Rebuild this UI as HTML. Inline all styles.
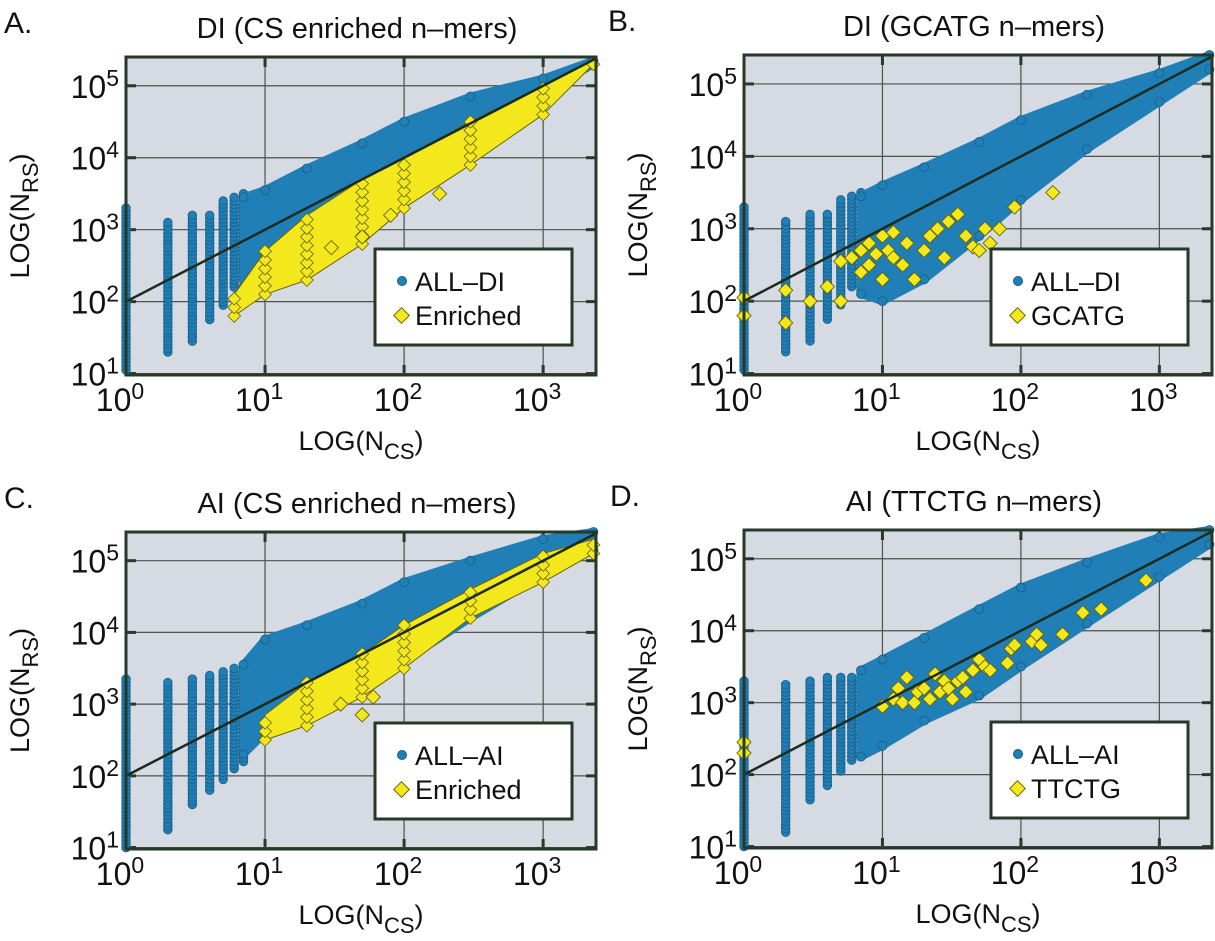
<!DOCTYPE html>
<html><head><meta charset="utf-8"><style>
html,body{margin:0;padding:0;background:#fff;width:1215px;height:941px;overflow:hidden}
svg{display:block;font-family:"Liberation Sans",Arial,sans-serif}
</style></head><body>
<svg id="fig" width="1215" height="941" viewBox="0 0 1215 941"></svg>
<script>
// ---- data (log10 values) ----
const colX = [1,2,3,4,5,6,7];
const aColLo = [1.05,1.3,1.45,1.75,1.95,2.2,2.3];
const aColHi = [3.3,3.1,3.2,3.2,3.4,3.45,3.5];
const bColLo = [1.05,1.3,1.45,1.75,1.95,2.2,2.1];
const bColHi = [3.3,3.1,3.2,3.2,3.4,3.45,3.5];
const cColLo = [1.0,1.25,1.6,1.8,1.95,2.1,2.2];
const cColHi = [3.35,3.3,3.35,3.4,3.45,3.5,3.55];
const dColLo = [1.0,1.2,1.65,1.85,2.05,2.2,2.25];
const dColHi = [3.3,3.25,3.3,3.35,3.35,3.35,3.45];
const bandX = [7,10,20,50,100,300,1000,2300];
const aBandLo = [2.2,2.5,2.8,3.3,3.8,4.35,4.9,5.3];
const aBandHi = [3.45,3.55,3.85,4.2,4.5,4.85,5.1,5.35];
const bBandLo = [2.1,2.0,2.3,2.9,3.4,4.1,4.75,5.2];
const bBandHi = [3.45,3.6,3.85,4.2,4.5,4.85,5.15,5.4];
const cBandLo = [2.3,2.6,2.8,3.2,3.6,4.2,4.8,5.15];
const cBandHi = [3.55,3.9,4.1,4.4,4.7,5.0,5.3,5.4];
const dBandLo = [2.25,2.4,2.75,3.1,3.5,4.1,4.75,5.2];
const dBandHi = [3.45,3.6,3.9,4.3,4.6,4.95,5.3,5.4];
const yBandX = [6,10,20,50,100,300,1000,2300];
const aYelLo = [1.8,2.1,2.3,2.8,3.3,3.9,4.6,5.3];
const aYelHi = [2.1,2.7,3.2,3.7,4.0,4.5,5.0,5.35];
const cYelX = [10,20,50,100,300,1000,2300];
const cYelLo = [2.5,2.7,3.1,3.5,4.2,4.7,5.1];
const cYelHi = [2.85,3.3,3.7,4.1,4.6,5.1,5.3];
const aYelPtX = [180,80,30,50];
const aYelPtY = [3.5,3.2,2.75,2.9];
const cYelPtX = [50,60,35];
const cYelPtY = [2.85,3.1,3.0];
const bYelPtX = [1,1,2,2,3,4,5,5,6,7,7,8,8,9,10,10,11,12,12,14,15,17,20,22,25,28,30,35,40,45,50,55,60,70,90,170];
const bYelPtY = [2.05,1.8,2.15,1.7,2.0,2.2,2.0,2.55,2.6,2.7,2.4,2.8,2.5,2.65,2.9,2.3,2.7,2.6,2.95,2.5,2.8,2.3,2.7,2.9,3.0,2.6,3.1,3.2,2.9,2.75,2.7,3.0,2.8,3.0,3.3,3.5];
const dYelPtX = [1,1,10,12,13,14,15,17,18,20,22,24,26,28,30,32,35,38,40,45,50,55,60,80,85,90,120,130,140,200,280,380,800];
const dYelPtY = [2.45,2.3,2.95,3.05,3.2,3.0,3.35,3.0,3.15,3.2,3.05,3.4,3.15,3.3,3.2,3.05,3.3,3.35,3.15,3.45,3.6,3.5,3.45,3.55,3.75,3.8,3.85,3.95,3.8,3.95,4.25,4.3,4.7];
const xTicks = [0,1,2,3];
const yTicks = [1,2,3,4,5];

const NS="http://www.w3.org/2000/svg";
const svg=document.getElementById('fig');
function el(tag,attrs,parent){const e=document.createElementNS(NS,tag);for(const k in attrs)e.setAttribute(k,attrs[k]);(parent||svg).appendChild(e);return e;}

const panels=[
 {L:126,R:596,T:57,B:375,LX:4,letter:'A.',title:'DI (CS enriched n\u2013mers)',colLo:aColLo,colHi:aColHi,bLo:aBandLo,bHi:aBandHi,yx:yBandX,yLo:aYelLo,yHi:aYelHi,px:aYelPtX,py:aYelPtY,l1:'ALL\u2013DI',l2:'Enriched',name:'panel-a'},
 {L:744,R:1212,T:55,B:375,LX:608,letter:'B.',title:'DI (GCATG n\u2013mers)',colLo:bColLo,colHi:bColHi,bLo:bBandLo,bHi:bBandHi,yx:null,px:bYelPtX,py:bYelPtY,l1:'ALL\u2013DI',l2:'GCATG',name:'panel-b'},
 {L:126,R:596,T:532,B:849,LX:4,letter:'C.',title:'AI (CS enriched n\u2013mers)',colLo:cColLo,colHi:cColHi,bLo:cBandLo,bHi:cBandHi,yx:cYelX,yLo:cYelLo,yHi:cYelHi,px:cYelPtX,py:cYelPtY,l1:'ALL\u2013AI',l2:'Enriched',name:'panel-c'},
 {L:744,R:1212,T:530,B:848,LX:610,letter:'D.',title:'AI (TTCTG n\u2013mers)',colLo:dColLo,colHi:dColHi,bLo:dBandLo,bHi:dBandHi,yx:null,px:dYelPtX,py:dYelPtY,l1:'ALL\u2013AI',l2:'TTCTG',name:'panel-d'}
];
const X0=0,X1=Math.log10(2400),Y0=0.98,Y1=5.4;
const BLUE='#1f7fb6',BLUE_S='#175f8a',YEL='#f2e81c',YEL_S='#6b6400';

panels.forEach(p=>{
 const g=el('g',{});
 
 
 const sx=v=>p.L+(v-X0)/(X1-X0)*(p.R-p.L);
 const sy=v=>p.B-(v-Y0)/(Y1-Y0)*(p.B-p.T);
 const lx=x=>sx(Math.log10(x));
 const cx=(p.L+p.R)/2;
 const bg=el('rect',{x:p.L,y:p.T,width:p.R-p.L,height:p.B-p.T,fill:'#d6dae2'},g);
 
 xTicks.forEach(t=>{el('line',{x1:sx(t),x2:sx(t),y1:p.T,y2:p.B,stroke:'#4c524c','stroke-width':1.2},g);
   el('line',{x1:sx(t),x2:sx(t),y1:p.T,y2:p.T+10,stroke:'#2a3a2a','stroke-width':3},g);
   el('line',{x1:sx(t),x2:sx(t),y1:p.B-10,y2:p.B,stroke:'#2a3a2a','stroke-width':3},g);});
 yTicks.forEach(t=>{el('line',{x1:p.L,x2:p.R,y1:sy(t),y2:sy(t),stroke:'#4c524c','stroke-width':1.2},g);
   el('line',{x1:p.L,x2:p.L+10,y1:sy(t),y2:sy(t),stroke:'#2a3a2a','stroke-width':3},g);
   el('line',{x1:p.R-10,x2:p.R,y1:sy(t),y2:sy(t),stroke:'#2a3a2a','stroke-width':3},g);});
 colX.forEach((x,i)=>{
   for(let v=p.colLo[i];v<=p.colHi[i];v+=0.05){
     const c=el('circle',{cx:lx(x),cy:sy(v),r:4.3,fill:BLUE,stroke:BLUE_S,'stroke-width':0.8},g);
     
   }
 });
 let pts=bandX.map((x,i)=>lx(x)+','+sy(p.bHi[i])).concat(bandX.slice().reverse().map((x,j)=>{const i=bandX.length-1-j;return lx(x)+','+sy(p.bLo[i]);}));
 const poly=el('polygon',{points:pts.join(' '),fill:BLUE,stroke:BLUE,'stroke-width':8,'stroke-linejoin':'round'},g);
 
 bandX.forEach((x,i)=>{[p.bHi[i],p.bLo[i]].forEach(v=>{el('circle',{cx:lx(x),cy:sy(v),r:4.5,fill:BLUE,stroke:BLUE_S,'stroke-width':0.8},g);});});
 if(p.yx){
   const yp=p.yx.map((x,i)=>lx(x)+','+sy(p.yHi[i])).concat(p.yx.slice().reverse().map((x,j)=>{const i=p.yx.length-1-j;return lx(x)+','+sy(p.yLo[i]);}));
   const yb=el('polygon',{points:yp.join(' '),fill:YEL,stroke:YEL_S,'stroke-width':1,'stroke-linejoin':'round'},g);
   
   p.yx.forEach((x,i)=>{for(let v=p.yLo[i];v<=p.yHi[i]+0.001;v+=0.12){
     const d=el('rect',{x:lx(x)-4.5,y:sy(v)-4.5,width:9,height:9,fill:YEL,stroke:YEL_S,'stroke-width':0.8,transform:`rotate(45 ${lx(x)} ${sy(v)})`},g);
     }});
 }
 p.px.forEach((x,i)=>{const X=lx(x),Y=sy(p.py[i]);
   const d=el('rect',{x:X-5,y:Y-5,width:10,height:10,fill:YEL,stroke:YEL_S,'stroke-width':0.9,transform:`rotate(45 ${X} ${Y})`},g);
   });
 const ln=el('line',{x1:sx(0),y1:sy(2),x2:sx(X1),y2:sy(2+X1),stroke:'#1d2a1d','stroke-width':2.5},g);
 
 el('rect',{x:p.L,y:p.T,width:p.R-p.L,height:p.B-p.T,fill:'none',stroke:'#263826','stroke-width':3},g);
 const lw=197,lh=96,lxp=p.R-24-lw,lyp=p.B-30-lh;
 const lg=el('g',{},g);
 el('rect',{x:lxp,y:lyp,width:lw,height:lh,fill:'#fff',stroke:'#263826','stroke-width':3},lg);
 el('circle',{cx:lxp+27,cy:lyp+32,r:4.5,fill:BLUE,stroke:BLUE_S},lg);
 el('rect',{x:lxp+21,y:lyp+61,width:11,height:11,fill:YEL,stroke:YEL_S,transform:`rotate(45 ${lxp+26.5} ${lyp+66.5})`},lg);
 const t1=el('text',{x:lxp+40,y:lyp+42,'font-size':27,fill:'#111'},lg);t1.textContent=p.l1;
 
 const t2=el('text',{x:lxp+40,y:lyp+76,'font-size':27,fill:'#111'},lg);t2.textContent=p.l2;
 
 const lt=el('text',{x:p.LX,y:p.T-24,'font-size':30,fill:'#111'},g);lt.textContent=p.letter;
 
 const tt=el('text',{x:cx-4,y:p.T-19,'font-size':29,'text-anchor':'middle',fill:'#111'},g);tt.textContent=p.title;
 
 xTicks.forEach(t=>{const tx=el('text',{x:sx(t)-6,y:p.B+36,'font-size':32,'text-anchor':'middle',fill:'#111'},g);
   tx.innerHTML=`10<tspan dy="-12" font-size="23">${t}</tspan>`;
   });
 yTicks.forEach(t=>{const ty=el('text',{x:p.L-7,y:sy(t)+12,'font-size':32,'text-anchor':'end',fill:'#111'},g);
   ty.innerHTML=`10<tspan dy="-12" font-size="23">${t}</tspan>`;
   });
 const xt=el('text',{x:cx,y:p.B+75,'font-size':27,'text-anchor':'middle',fill:'#111'},g);
 xt.innerHTML='LOG(N<tspan dy="9" font-size="22">CS</tspan><tspan dy="-9">)</tspan>';
 
 const yy=(p.T+p.B)/2, yxp=p.L-97;
 const yt=el('text',{x:yxp,y:yy,'font-size':27,'text-anchor':'middle',fill:'#111',transform:`rotate(-90 ${yxp} ${yy})`},g);
 yt.innerHTML='LOG(N<tspan dy="9" font-size="22">RS</tspan><tspan dy="-9">)</tspan>';
 
});
</script>
</body></html>
